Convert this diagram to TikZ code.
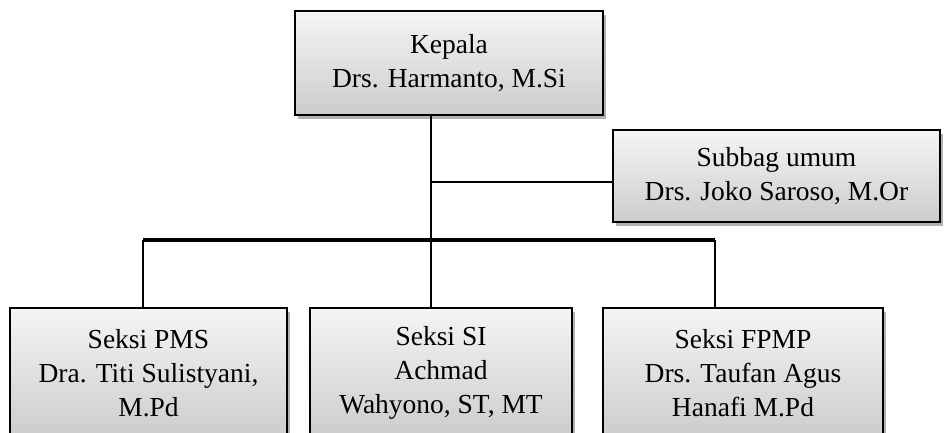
\documentclass[tikz,border=0pt]{standalone}
\usepackage{fontspec}
\setmainfont{Liberation Serif}
\usepackage{tikz}
\usetikzlibrary{positioning, shadows}
\tikzstyle{unit} = [rectangle, draw=black, line width=1.8pt, top color=gray!8, bottom color=gray!40, text centered, align=center, inner sep=0pt, font=\fontsize{27.5}{34}\selectfont, drop shadow={shadow xshift=3pt, shadow yshift=-4pt, fill=black, opacity=0.3}]
\tikzstyle{line} = [line width=2.2pt]
\tikzstyle{bar} = [line width=3.2pt]

\begin{document}
\begin{tikzpicture}[x=1pt, y=-1pt]
    \useasboundingbox (0,0) rectangle (944,432);
    \clip (0,0) rectangle (944,432);

        % Nodes
        \node (kepala) [unit, minimum width=308pt, minimum height=104pt] at (449,63) {Kepala\\ Drs. Harmanto, M.Si};
        \node (subbag) [unit, minimum width=327pt, minimum height=92pt] at (776.5,176) {Subbag umum\\ Drs. Joko Saroso, M.Or};
        \node (pms) [unit, minimum width=277pt, minimum height=130pt] at (148.5,373) {Seksi PMS\\ Dra. Titi Sulistyani,\\ M.Pd};
        \node (si) [unit, minimum width=262pt, minimum height=130pt] at (441,373) {Seksi SI\\ Achmad\\ Wahyono, ST, MT};
        \node (fpmp) [unit, minimum width=280pt, minimum height=130pt] at (743,373) {Seksi FPMP\\ Drs. Taufan Agus\\ Hanafi M.Pd};

        \coordinate (trunk) at (431,240);
        \coordinate (branch) at (431,182);
        \coordinate (barL) at (143,240);
        \coordinate (barR) at (715,240);

        % Lines
        \draw [line] (kepala.south -| trunk) -- (si.north -| trunk);
        \draw [line] (branch) -- (branch -| subbag.west);
        \draw [bar] (barL) -- (barR);
        \draw [line] (barL) -- (pms.north -| barL);
        \draw [line] (barR) -- (fpmp.north -| barR);

\end{tikzpicture}
\end{document}
